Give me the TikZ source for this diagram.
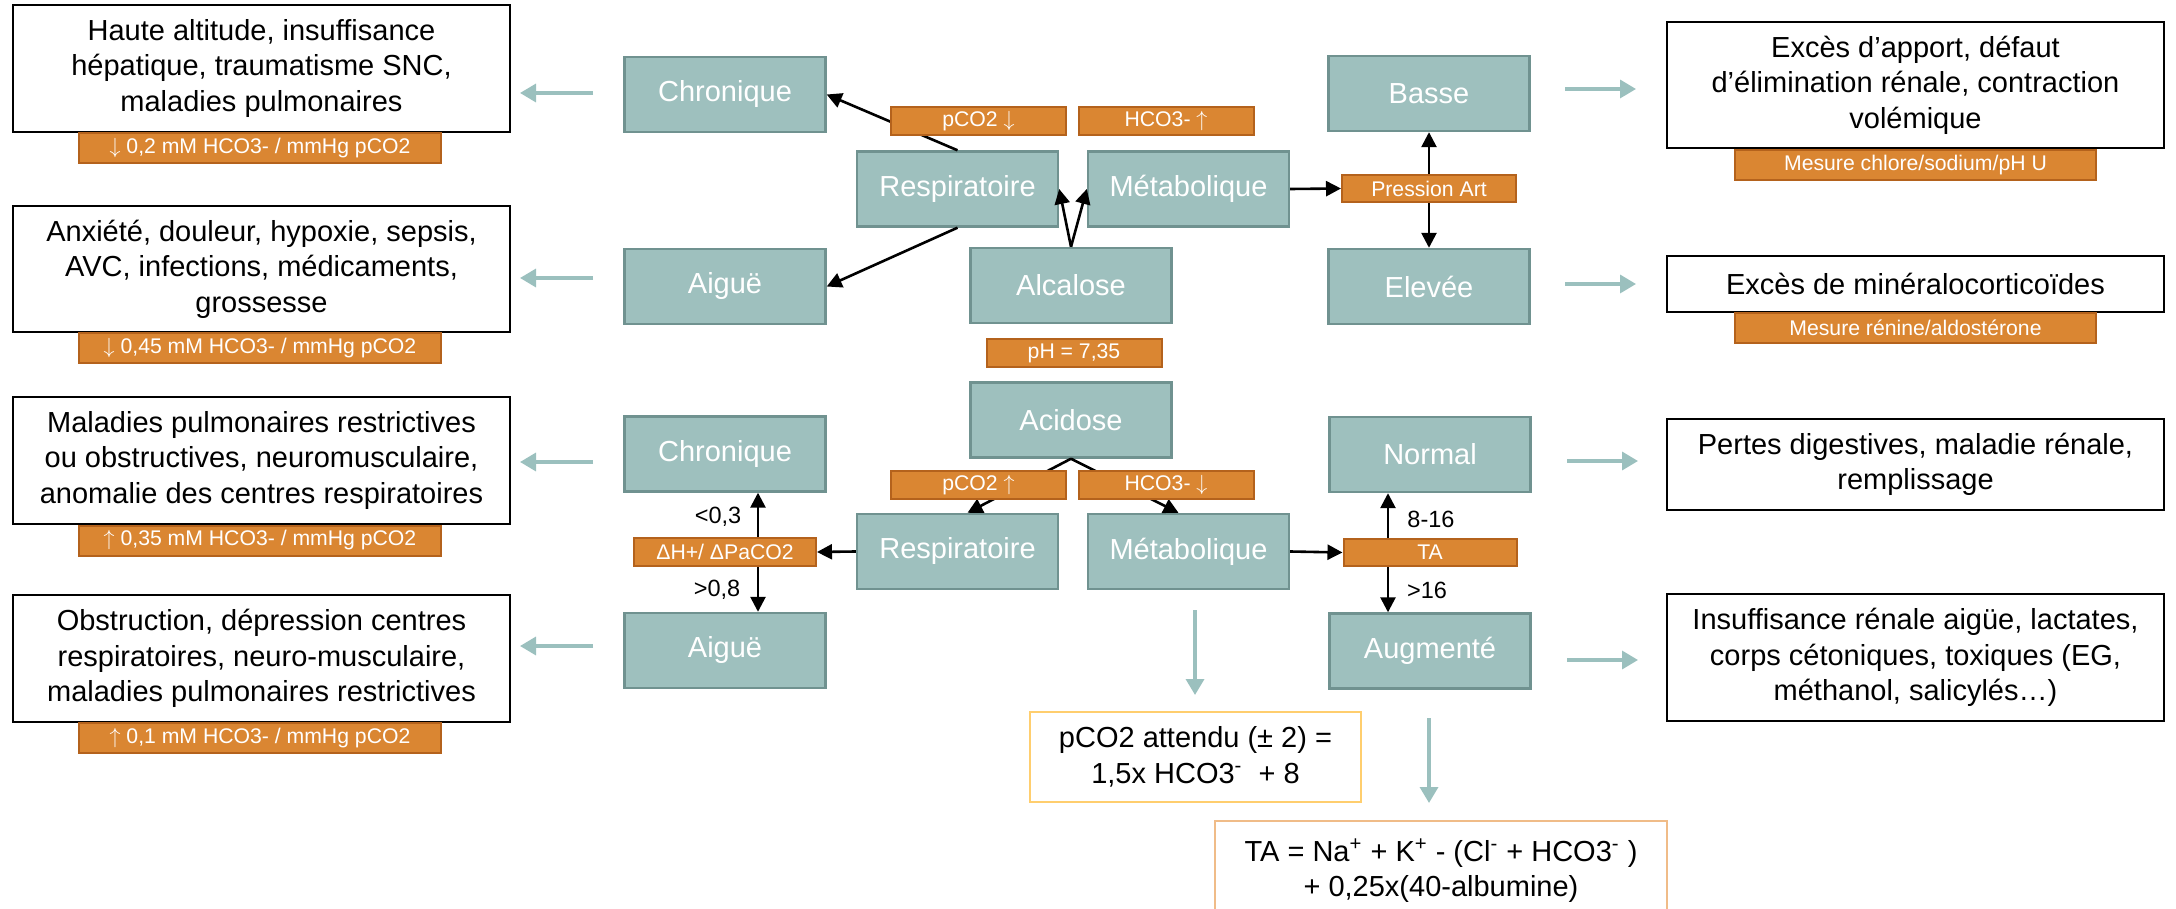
\documentclass[tikz,border=0pt]{standalone}
\usepackage{fontspec}
\setmainfont{Liberation Sans}
\usetikzlibrary{arrows.meta,calc}
\definecolor{tealF}{RGB}{158,192,190}
\definecolor{tealD}{RGB}{112,146,144}
\definecolor{tealA}{RGB}{155,192,190}
\definecolor{orangeF}{RGB}{218,134,50}
\definecolor{orangeD}{RGB}{180,98,28}
\definecolor{goldB}{RGB}{255,206,110}
\definecolor{peachB}{RGB}{240,188,136}
\newcommand\dnA{$\downarrow$}
\newcommand\upA{$\uparrow$}
\tikzset{
 tbox/.style={draw=tealD, fill=tealF, line width=1.2pt, minimum width=100.5pt, minimum height=37.5pt, inner sep=0pt, text=white, font=\fontsize{14.5}{17}\selectfont},
 olbl/.style={draw=orangeD, fill=orangeF, line width=1pt, inner sep=0pt, text=white, font=\fontsize{10.6}{12}\selectfont},
 smlbl/.style={olbl, minimum width=87.5pt, minimum height=14pt},
 cbox/.style={draw=black, fill=white, line width=1.2pt, inner sep=0pt, align=center, minimum width=248.5pt, font=\fontsize{14.5}{17.75}\selectfont},
 lcause/.style={olbl, minimum width=181pt, minimum height=15pt},
 rcause/.style={olbl, minimum width=180.5pt, minimum height=15pt},
 arr/.style={-{Triangle[length=7.5pt,width=7.5pt]}, line width=1.3pt, draw=black},
 tarr/.style={-{Triangle[length=8pt,width=9pt]}, line width=1.7pt, draw=tealA},
 num/.style={font=\fontsize{11.75}{14}\selectfont, inner sep=0pt},
}
\begin{document}
\begin{tikzpicture}[x=0.5pt,y=-0.5pt]
\useasboundingbox (0,0) rectangle (2176,909);

% teal nodes
\node[tbox] (chronU) at (725,94.5) {Chronique};
\node[tbox] (respU) at (957.5,189) {Respiratoire};
\node[tbox] (metU) at (1188.5,189) {Métabolique};
\node[tbox] (alc) at (1071,285.5) {Alcalose};
\node[tbox] (aigU) at (725,286.5) {Aiguë};
\node[tbox] (basse) at (1429,93.5) {Basse};
\node[olbl, minimum width=87pt, minimum height=13.5pt] (pression) at (1429,188.5) {Pression Art};
\node[tbox] (elev) at (1429,286.5) {Elevée};
\node[tbox] (acid) at (1071,420) {Acidose};
\node[tbox] (chronL) at (725,454) {Chronique};
\node[tbox] (respL) at (957.5,551.5) {Respiratoire};
\node[tbox] (metL) at (1188.5,551.5) {Métabolique};
\node[olbl, minimum width=91pt, minimum height=14pt] (dh) at (725,552) {ΔH+/ ΔPaCO2};
\node[tbox] (aigL) at (725,650.5) {Aiguë};
\node[tbox] (normal) at (1430,454.5) {Normal};
\node[olbl, minimum width=86.5pt, minimum height=13.5pt] (ta) at (1430,552.5) {TA};
\node[tbox] (augm) at (1430,651) {Augmenté};

% black connectors
\draw[arr] (respU.north) -- (chronU.east);
\draw[arr] (respU.south) -- (aigU.east);
\draw[arr] (alc.north) -- (respU.east);
\draw[arr] (alc.north) -- (metU.west);
\draw[arr] (metU.east) -- (pression.west);
\draw[arr] (pression.north) -- (basse.south);
\draw[arr] (pression.south) -- (elev.north);
\draw[arr] (acid.south) -- ([xshift=5pt]respL.north);
\draw[arr] (acid.south) -- ([xshift=-5pt]metL.north);
\draw[arr] (respL.west) -- (dh.east);
\draw[arr] (metL.east) -- (ta.west);
\draw[arr] ([xshift=16.5pt]dh.north) -- ([xshift=16.5pt]dh.north |- chronL.south);
\draw[arr] ([xshift=16.5pt]dh.south) -- ([xshift=16.5pt]dh.south |- aigL.north);
\draw[arr] ([xshift=-21pt]ta.north) -- ([xshift=-21pt]ta.north |- normal.south);
\draw[arr] ([xshift=-21pt]ta.south) -- ([xshift=-21pt]ta.south |- augm.north);

\node[num] (n1) at (718,517) {<0,3};
\node[num] (n2) at (717,590) {>0,8};
\node[num] (n3) at (1431,519) {8-16};
\node[num] (n4) at (1427,590) {>16};

% labels over connectors
\node[smlbl] (pco2d) at (978.5,121.5) {pCO2 \dnA};
\node[smlbl] (hco3u) at (1166,121) {HCO3- \upA};
\node[smlbl] (ph) at (1074,353) {pH = 7,35};
\node[smlbl] (pco2u) at (978.5,485) {pCO2 \upA};
\node[smlbl] (hco3d) at (1166,485) {HCO3- \dnA};

% left cause boxes
\node[cbox, minimum height=63.5pt] (t1) at (261.5,68.5) {Haute altitude, insuffisance\\hépatique, traumatisme SNC,\\maladies pulmonaires};
\node[lcause] (l1) at (260,148) {\dnA\ 0,2 mM HCO3- / mmHg pCO2};
\node[cbox, minimum height=63pt] (t2) at (261.5,269) {Anxiété, douleur, hypoxie, sepsis,\\AVC, infections, médicaments,\\grossesse};
\node[lcause] (l2) at (260,348.5) {\dnA\ 0,45 mM HCO3- / mmHg pCO2};
\node[cbox, minimum height=63.5pt] (t3) at (261.5,460.5) {Maladies pulmonaires restrictives\\ou obstructives, neuromusculaire,\\anomalie des centres respiratoires};
\node[lcause] (l3) at (260,540.5) {\upA\ 0,35 mM HCO3- / mmHg pCO2};
\node[cbox, minimum height=63.5pt] (t4) at (261.5,658.5) {Obstruction, dépression centres\\respiratoires, neuro-musculaire,\\maladies pulmonaires restrictives};
\node[lcause] (l4) at (260,738) {\upA\ 0,1 mM HCO3- / mmHg pCO2};

% right cause boxes
\node[cbox, minimum height=63pt] (r1) at (1915.5,85) {Excès d’apport, défaut\\d’élimination rénale, contraction\\volémique};
\node[rcause] (rl1) at (1915.5,165) {Mesure chlore/sodium/pH U};
\node[cbox, minimum height=28pt] (r2) at (1915.5,284) {Excès de minéralocorticoïdes};
\node[rcause] (rl2) at (1915.5,328) {Mesure rénine/aldostérone};
\node[cbox, minimum height=45.5pt] (r3) at (1915.5,464.5) {Pertes digestives, maladie rénale,\\remplissage};
\node[cbox, minimum height=63.5pt] (r4) at (1915.5,657.5) {Insuffisance rénale aigüe, lactates,\\corps cétoniques, toxiques (EG,\\méthanol, salicylés…)};

% formula boxes
\node[cbox, draw=goldB, line width=1pt, minimum width=165.5pt, minimum height=45pt] (f1) at (1195.5,757) {pCO2 attendu (± 2) =\\1,5x HCO3\textsuperscript{-}\ \ + 8};
\node[cbox, draw=peachB, line width=1pt, minimum width=226pt, minimum height=50pt] (f2) at (1441,871) {TA = Na\textsuperscript{+} + K\textsuperscript{+} - (Cl\textsuperscript{-} + HCO3\textsuperscript{-} )\\+ 0,25x(40-albumine)};

% light teal arrows
\coordinate (a1s) at (593,93);  \coordinate (a1e) at (520,93);
\coordinate (a2s) at (593,278); \coordinate (a2e) at (520,278);
\coordinate (a3s) at (593,462); \coordinate (a3e) at (520,462);
\coordinate (a4s) at (593,646); \coordinate (a4e) at (520,646);
\coordinate (b1s) at (1565,89);  \coordinate (b1e) at (1636,89);
\coordinate (b2s) at (1565,284); \coordinate (b2e) at (1636,284);
\coordinate (b3s) at (1567,461); \coordinate (b3e) at (1638,461);
\coordinate (b4s) at (1567,660); \coordinate (b4e) at (1638,660);
\coordinate (d1s) at (1195,610); \coordinate (d1e) at (1195,695);
\coordinate (d2s) at (1429,718); \coordinate (d2e) at (1429,803);
\foreach \s/\e in {a1s/a1e,a2s/a2e,a3s/a3e,a4s/a4e,b1s/b1e,b2s/b2e,b3s/b3e,b4s/b4e,d1s/d1e,d2s/d2e}
  \draw[tarr] (\s) -- (\e);
\end{tikzpicture}
\end{document}
